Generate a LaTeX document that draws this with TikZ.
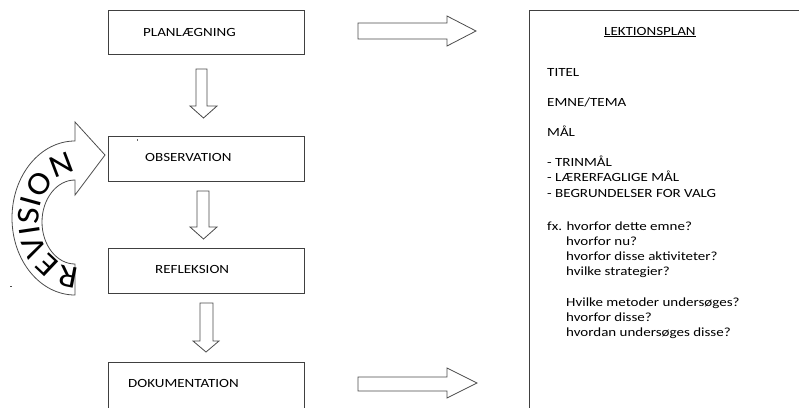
\documentclass[tikz,border=0pt]{standalone}
\usepackage{fontspec}
\setmainfont{Carlito}[FakeStretch=1.2]
\newfontfamily\revfont{Carlito}[FakeStretch=1.1]
\usetikzlibrary{decorations.text}
\begin{document}
\begin{tikzpicture}[x=1pt,y=-1pt,
  stagebox/.style={draw=black!75, line width=0.9pt, fill=white, rectangle, inner sep=0pt, anchor=north west},
  blockarrow/.style={draw=black!70, line width=0.8pt, fill=white, line join=miter},
  lbl/.style={anchor=base west, inner sep=0pt, font=\fontsize{12.5}{15}\selectfont},
]
\useasboundingbox (0,0) rectangle (799,407);
\clip (0,0) rectangle (799,407);

% process stages
\node[stagebox, minimum width=196pt, minimum height=44pt] (plan) at (108,10) {};
\node[stagebox, minimum width=196pt, minimum height=45pt] (obs)  at (108,136) {};
\node[stagebox, minimum width=196pt, minimum height=45pt] (refl) at (108,248) {};
\node[stagebox, minimum width=196pt, minimum height=60pt] (dok)  at (108,362) {};

\node[lbl] (tplan) at (143,36)  {PLANLÆGNING};
\node[lbl] (tobs)  at (145,161) {OBSERVATION};
\node[lbl] (trefl) at (155,273) {REFLEKSION};
\node[lbl] (tdok)  at (128,387) {DOKUMENTATION};

% lesson plan panel
\node[stagebox, minimum width=300pt, minimum height=420pt] (plan-panel) at (529,10) {};
\node[lbl] (lp)  at (604,35)    {\underline{LEKTIONSPLAN}};
\node[lbl] (l1)  at (547,76.5)  {TITEL};
\node[lbl] (l2)  at (547,106.5) {EMNE/TEMA};
\node[lbl] (l3)  at (547,136.5) {MÅL};
\node[lbl] (l4)  at (547,166)   {- TRINMÅL};
\node[lbl] (l5)  at (547,181.5) {- LÆRERFAGLIGE MÅL};
\node[lbl] (l6)  at (547,197)   {- BEGRUNDELSER FOR VALG};
\node[lbl] (q1)  at (547,230)   {fx. hvorfor dette emne?};
\node[lbl] (q2)  at (566,245)   {hvorfor nu?};
\node[lbl] (q3)  at (566,260)   {hvorfor disse aktiviteter?};
\node[lbl] (q4)  at (566,275.5) {hvilke strategier?};
\node[lbl] (q5)  at (566,306)   {Hvilke metoder undersøges?};
\node[lbl] (q6)  at (566,321)   {hvorfor disse?};
\node[lbl] (q7)  at (566,336.5) {hvordan undersøges disse?};

% downward block arrows between stages
\draw[blockarrow] (196,69) -- (207,69) -- (207,106) -- (217,106) -- (203.5,118)
  -- (190,106) -- (196,106) -- cycle;
\draw[blockarrow] (197,191) -- (209,191) -- (209,227) -- (217,227) -- (203.5,239)
  -- (190,227) -- (197,227) -- cycle;
\draw[blockarrow] (200,303) -- (213,303) -- (213,341) -- (219,341) -- (206,352)
  -- (193,341) -- (200,341) -- cycle;

% rightward block arrows towards the lesson plan
\draw[blockarrow] (358,23) -- (447,23) -- (447,16) -- (476,31) -- (447,46)
  -- (447,39) -- (358,39) -- cycle;
\draw[blockarrow] (358,377) -- (447,377) -- (447,368) -- (477,383) -- (447,398)
  -- (447,391) -- (358,391) -- cycle;

% curved revision arrow
\draw[blockarrow] (75,295) arc[start angle=270, end angle=90, x radius=63pt, y radius=77pt]
  -- (75,122) -- (105,155) -- (75,195) -- (75,180)
  arc[start angle=90, end angle=270, x radius=33pt, y radius=42pt] -- cycle;
\coordinate (revc) at (75,220);
\path[decorate, decoration={text along path, text align=center,
    text={|\revfont\fontsize{32}{32}\selectfont|REVISION}}]
  (revc) ++(280:36pt and 47pt) arc[start angle=280, end angle=85, x radius=36pt, y radius=47pt];

% stray specks
\fill[black!60] (136.6,138.5) rectangle (137.4,141);
\fill[black!70] (10,285.5) rectangle (12,286.5);
\end{tikzpicture}
\end{document}
